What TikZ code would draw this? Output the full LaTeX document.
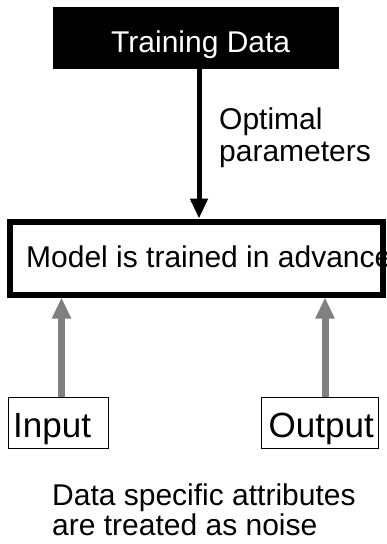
\documentclass[tikz,border=0pt]{standalone}
\usepackage{fontspec}
\setmainfont{Liberation Sans}
\usetikzlibrary{arrows.meta}
\tikzset{
  txt/.style={inner sep=0pt, anchor=base west, font=\fontsize{30}{32}\selectfont},
  bigtxt/.style={inner sep=0pt, anchor=base west, font=\fontsize{35}{40}\selectfont},
  iobox/.style={draw, line width=1.2pt, minimum height=51pt, inner sep=0pt},
  mainflow/.style={line width=5pt, -{Triangle[length=20pt,width=17pt]}},
  sideflow/.style={line width=7pt, black!50, -{Triangle[length=21pt,width=18pt]}},
}
\begin{document}
\begin{tikzpicture}[x=1pt, y=-1pt]
  \useasboundingbox (0,0) rectangle (386,544);
  \clip (0,0) rectangle (386,544);

  % training data source
  \node[fill=black, minimum width=286pt, minimum height=62pt, inner sep=0pt] (training) at (196,38) {};
  \node[txt, text=white] (trainingtxt) at (111,52) {Training Data};

  % model block, text runs past its right edge
  \node[txt] (modeltxt) at (26,267) {Model is trained in advance};
  \node[draw, line width=6pt, minimum width=373pt, minimum height=73pt, inner sep=0pt] (model) at (196.5,258) {};

  % parameter flow
  \draw[mainflow] ([xshift=3pt]training.south) -- ([xshift=3pt]training.south |- model.north);
  \node[txt] (opt1) at (219,129) {Optimal};
  \node[txt] (opt2) at (219,161) {parameters};

  % input and output
  \node[iobox, minimum width=100pt] (input) at (58.5,423) {};
  \node[bigtxt] (inputtxt) at (13,437) {Input};
  \node[iobox, minimum width=117pt] (output) at (320,423) {};
  \node[bigtxt] (outputtxt) at (268.5,437) {Output};

  \draw[sideflow] ([xshift=3pt]input.north) -- ([xshift=3pt]input.north |- model.south);
  \draw[sideflow] ([xshift=5pt]output.north) -- ([xshift=5pt]output.north |- model.south);

  % note
  \node[txt] (note1) at (52,505) {Data specific attributes};
  \node[txt] (note2) at (52,535) {are treated as noise};
\end{tikzpicture}
\end{document}
